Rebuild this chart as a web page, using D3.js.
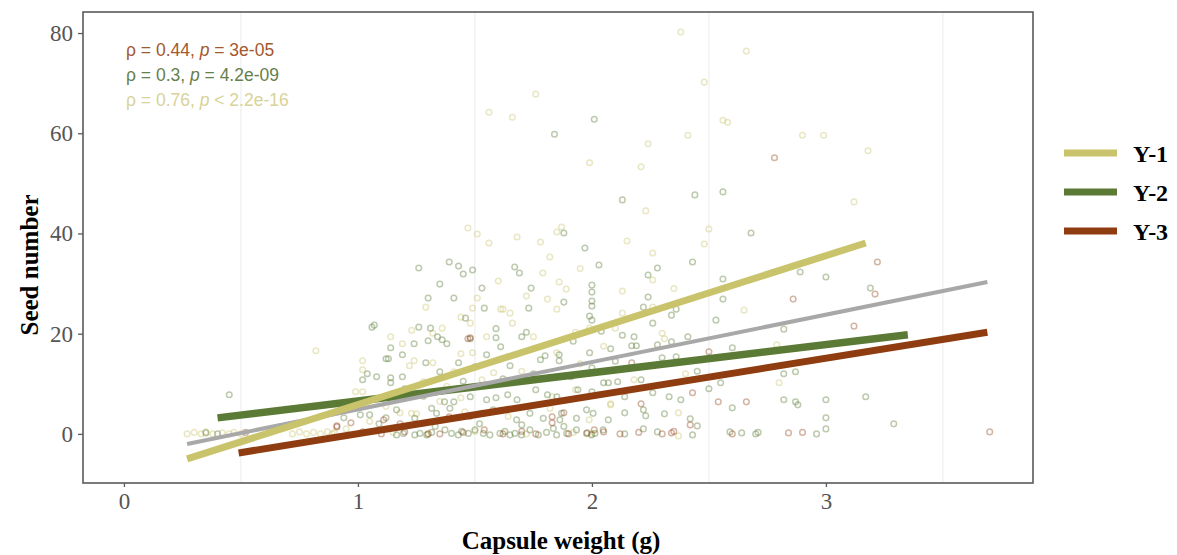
<!DOCTYPE html>
<html><head><meta charset="utf-8">
<script src="https://cdn.jsdelivr.net/npm/d3@7"></script>
<style>html,body{margin:0;padding:0;background:#fff;}</style>
</head><body>
<svg id="chart" width="1177" height="555"></svg>
<script>
// ---------- data ----------
const seriesNames = ["Y-1", "Y-2", "Y-3"];
const seriesColors = ["#c9c46b", "#5b7a35", "#8f3d10"];
const annoColors = ["#d8d398", "#66804c", "#a3582f"];
const xTicks = [0, 1, 2, 3];
const yTicks = [0, 20, 40, 60, 80];
const corLabels = [
  {rho: "0.44", op: "=", p: "3e-05"},
  {rho: "0.3", op: "=", p: "4.2e-09"},
  {rho: "0.76", op: "<", p: "2.2e-16"}
];
const corColorIdx = [2, 1, 0];

const y1Points = [
[0.27,0],[0.30,0.3],[0.33,0],[0.35,0.4],[0.38,0],[0.42,0.2],[0.45,0],[0.47,0.3],[0.50,0],[0.72,0],[0.75,0.4],[0.78,0],[0.81,0.3],[0.84,0],[0.87,0.4],[0.89,0],[0.90,0.2],
[0.82,16.6],[0.99,8.4],[1.02,8.4],[1.02,12.8],[1.02,14.6],[1.14,19.4],[1.14,6.8],[1.18,4.2],[1.19,18.0],[1.23,20.7],[1.22,13.6],[1.24,14.6],[1.28,10.4],[1.29,25.3],[1.32,20.1],[1.32,14.2],[1.36,21.1],[1.41,12.4],[1.44,23.3],[1.44,16.0],[1.44,7.2],[1.47,41.1],[1.48,22.1],[1.49,25.1],[1.49,16.2],[1.51,39.9],[1.51,27.1],[1.55,19.4],[1.56,38.1],[1.56,64.2],[1.58,12.2],[1.61,24.9],[1.62,24.9],[1.64,15.4],[1.65,24.1],[1.66,22.1],[1.66,63.2],[1.68,39.3],[1.75,19.4],[1.76,67.8],[1.78,38.3],[1.79,32.1],[1.81,26.9],[1.82,35.3],[1.83,7.4],[1.85,40.3],[1.85,24.9],[1.85,16.2],[1.86,30.3],[1.87,41.3],[1.89,28.9],[1.93,20.3],[1.93,8.8],[1.99,21.1],[1.99,54.1],[2.08,5.8],[2.08,6.0],[2.10,21.1],[2.13,28.5],[2.13,24.1],[2.18,10.8],[2.21,53.3],[2.23,44.5],[2.24,57.9],[2.26,36.1],[2.26,30.7],[2.26,25.3],[2.30,20.1],[2.31,19.0],[2.37,4.2],[2.37,-0.4],[2.38,80.2],[2.40,12.0],[2.41,59.6],[2.48,70.2],[2.48,37.9],[2.50,40.9],[2.56,62.6],[2.58,62.2],[2.65,24.7],[2.66,76.4],[2.79,17.8],[2.80,10.2],[2.90,59.6],[2.99,59.6],[3.12,46.3],[3.18,56.5],
[1.15,0.3],[1.30,0],[1.50,0.5],[1.72,0],[1.92,0.3],[2.00,0],[1.05,2.5],[1.12,5.5],[1.25,4.0],[1.35,6.5],[0.95,1.0],[1.229,4.1],[1.457,4.4],[1.642,3.5],[1.821,5.1],[1.988,2.8],
[1.38,9.5],[1.53,10.8],[1.70,12.5],[1.95,14.0],[2.05,17.5],[1.60,30.5],[1.72,27.5],[1.95,33.0],[2.15,38.5],[2.35,29.0]
];

const y2Points = [
[0.40,0],[0.45,7.8],[0.35,0.2],[1.01,3.8],[1.04,12.0],[1.05,3.8],[1.06,21.3],[1.07,21.7],[1.08,11.4],[1.09,2.0],[1.12,3.2],[1.12,15.0],[1.13,15.0],[1.14,17.2],[1.14,11.2],[1.14,10.2],[0.94,3.2],[1.02,10.8],[1.19,15.8],[1.19,11.4],[1.22,8.2],[1.24,18.0],[1.26,33.1],[1.26,21.3],[1.29,14.2],[1.30,27.1],[1.30,18.6],[1.31,21.1],[1.34,19.4],[1.35,29.9],[1.35,12.4],[1.36,18.8],[1.37,6.4],[1.38,18.0],[1.39,34.3],[1.41,27.1],[1.41,6.4],[1.43,33.5],[1.43,14.2],[1.45,31.9],[1.46,23.1],[1.48,19.0],[1.48,7.4],[1.49,32.7],[1.50,13.4],[1.53,29.1],[1.54,25.1],[1.55,15.8],[1.55,6.8],[1.59,21.0],[1.59,19.2],[1.59,7.2],[1.61,17.4],[1.64,7.8],[1.65,13.6],[1.67,33.3],[1.68,6.8],[1.69,32.1],[1.70,19.4],[1.72,20.3],[1.73,25.1],[1.74,29.1],[1.76,8.8],[1.78,14.8],[1.80,15.6],[1.81,7.8],[1.84,59.8],[1.85,7.4],[1.86,15.8],[1.86,14.6],[1.88,40.1],[1.88,26.3],[1.91,11.4],[1.94,8.8],[1.97,37.1],[1.99,23.5],[1.99,16.2],[2.00,29.7],[2.00,28.3],[2.00,26.5],[2.00,25.5],[2.00,22.7],[2.00,13.2],[2.00,8.4],[2.01,62.8],[2.03,33.7],[2.05,10.2],[2.07,10.2],[2.08,17.0],[2.11,10.4],[2.13,46.7],[2.13,19.7],[2.14,7.4],[2.14,4.2],[2.14,0],[2.17,17.6],[2.18,19.4],[2.19,17.6],[2.21,10.8],[2.22,25.3],[2.22,4.8],[2.22,1.0],[2.23,3.6],[2.24,27.3],[2.24,31.7],[2.26,22.1],[2.26,8.2],[2.28,33.1],[2.28,17.8],[2.28,0.4],[2.30,15.2],[2.31,4.0],[2.33,7.4],[2.34,23.7],[2.34,18.4],[2.36,24.9],[2.36,15.4],[2.38,6.8],[2.41,19.4],[2.42,3.0],[2.43,34.3],[2.43,-0.2],[2.44,47.7],[2.45,1.6],[2.53,22.7],[2.55,10.2],[2.56,48.3],[2.56,30.9],[2.56,26.9],[2.59,0.4],[2.60,17.2],[2.60,5.2],[2.64,0.2],[2.68,40.1],[2.70,0],[2.71,0.3],[2.82,20.9],[2.82,12.0],[2.82,6.8],[2.87,12.4],[2.87,6.4],[2.88,5.8],[2.89,32.3],[2.96,0],[3.00,31.3],[3.00,6.8],[3.00,3.2],[3.00,1.0],[3.17,7.4],[3.19,29.1],[3.29,2.0],
[1.165,-0.2],[1.194,0.1],[1.243,-0.2],[1.265,0.1],[1.294,-0.2],[1.315,0.3],[1.372,0.8],[1.400,0.1],[1.429,-0.2],[1.443,0.5],[1.472,0.1],[1.500,0.8],[1.536,0.1],[1.564,-0.2],[1.607,0.1],[1.628,0.5],[1.650,-0.2],[1.671,0.1],[1.699,-0.2],[1.735,0.8],[1.771,-0.2],[1.806,0.3],[1.835,1.1],[1.849,-0.2],[1.892,0.1],[1.934,0.8],[1.977,0.1],[1.998,-0.2],[2.013,0.1],[2.048,0.8],
[1.165,4.8],[1.243,3.1],[1.315,5.1],[1.336,4.1],[1.393,5.1],[1.479,3.5],[1.528,4.1],[1.578,4.8],[1.678,2.8],[1.735,4.1],[1.792,3.1],[1.863,2.8],[1.870,4.1],[1.934,3.1],[1.977,4.8],[2.005,4.1],[2.070,2.8],
[1.20,9.0],[1.28,7.5],[1.45,10.5],[1.62,11.0],[1.75,12.0],[1.92,18.5],[2.04,20.5],[2.10,14.5],[2.45,12.5],[2.50,9.0],[1.33,1.5],[1.52,2.0],[1.70,1.8],[1.88,1.5]
];

const y3Points = [
[0.52,0.3],[0.91,1.4],[0.91,1.6],[0.97,2.2],[1.02,0.4],[1.10,0],[1.11,2.8],[1.18,2.0],[1.20,0.4],[1.30,0],[1.35,0],[1.39,3.4],[1.45,0.3],[1.47,19.0],[1.48,19.2],[1.54,0.8],[1.62,0],[1.70,0.5],[1.76,0],[1.83,3.4],[1.83,2.2],[1.88,4.2],[1.90,0],[1.98,0.2],[2.01,0.8],[2.05,0.4],[2.12,0],[2.17,14.2],[2.20,0.3],[2.21,6.0],[2.30,0],[2.34,0.2],[2.35,0.5],[2.42,1.8],[2.43,8.2],[2.50,16.4],[2.54,6.4],[2.60,0],[2.66,6.4],[2.78,55.1],[2.84,0.2],[2.86,26.9],[2.90,0.3],[3.12,21.5],[3.21,27.9],[3.22,34.3],[3.70,0.4]
];

// fitted lines (endpoints)
const y1Fit = [[0.27,-5.0],[3.17,38.1]];
const y2Fit = [[0.40,3.2],[3.35,19.8]];
const y3Fit = [[0.49,-3.8],[3.69,20.3]];
const allFit = [[0.27,-2.0],[3.69,30.3]];
const gridMinorX = [0.5, 1.5, 2.5, 3.5];

// ---------- layout ----------
const svg = d3.select("#chart");
const L = 83, R = 1033, T = 12, B = 483;
const x = d3.scaleLinear().domain([-0.175, 3.885]).range([L, R]);
const y = d3.scaleLinear().domain([-9.8, 84.2]).range([B, T]);
const serif = "'Liberation Serif','Times New Roman',serif";
const sans = "'Liberation Sans',Arial,sans-serif";

// grid
svg.append("g").selectAll("line").data(gridMinorX).join("line")
  .attr("x1", d => x(d)).attr("x2", d => x(d)).attr("y1", T).attr("y2", B)
  .attr("stroke", "#ebebeb").attr("stroke-width", 1);

// points
const pointSets = [y1Points, y2Points, y3Points];
const pointOpacity = [0.4, 0.4, 0.38];
pointSets.forEach((pts, i) => {
  svg.append("g").selectAll("circle").data(pts).join("circle")
    .attr("cx", d => x(d[0])).attr("cy", d => y(d[1])).attr("r", 2.8)
    .attr("fill", "none").attr("stroke", seriesColors[i])
    .attr("stroke-width", 1.5).attr("stroke-opacity", pointOpacity[i]);
});

// fit lines
const lineGen = d3.line().x(d => x(d[0])).y(d => y(d[1]));
const fits = [
  {d: y3Fit, c: seriesColors[2], w: 7},
  {d: y2Fit, c: seriesColors[1], w: 7.5},
  {d: allFit, c: "#a8a8a8", w: 4},
  {d: y1Fit, c: seriesColors[0], w: 7}
];
fits.forEach(f => {
  svg.append("path").datum(f.d).attr("d", lineGen)
    .attr("fill", "none").attr("stroke", f.c).attr("stroke-width", f.w)
    .attr("stroke-linecap", "butt");
});

// panel border
svg.append("rect").attr("x", L).attr("y", T).attr("width", R - L).attr("height", B - T)
  .attr("fill", "none").attr("stroke", "#5a5a5a").attr("stroke-width", 1.6);

// axes
const xAxis = svg.append("g").attr("transform", `translate(0,${B})`)
  .call(d3.axisBottom(x).tickValues(xTicks).tickSize(4).tickPadding(6).tickFormat(d3.format("d")));
const yAxis = svg.append("g").attr("transform", `translate(${L},0)`)
  .call(d3.axisLeft(y).tickValues(yTicks).tickSize(5).tickPadding(5).tickFormat(d3.format("d")));
[xAxis, yAxis].forEach(a => {
  a.select(".domain").remove();
  a.selectAll(".tick line").attr("stroke", "#5a5a5a").attr("stroke-width", 1.3);
  a.selectAll(".tick text").attr("fill", "#555").style("font-family", serif).style("font-size", "23px");
});

// axis titles
svg.append("text").attr("x", (L + R) / 2 + 3).attr("y", 549).attr("text-anchor", "middle")
  .style("font-family", serif).style("font-weight", "bold").style("font-size", "25px")
  .attr("fill", "#000").text("Capsule weight (g)");
svg.append("text").attr("transform", "translate(38,265) rotate(-90)").attr("text-anchor", "middle")
  .style("font-family", serif).style("font-weight", "bold").style("font-size", "25px")
  .attr("fill", "#000").text("Seed number");

// correlation annotations
corLabels.forEach((c, i) => {
  const t = svg.append("text").attr("x", 126).attr("y", 56 + i * 25)
    .style("font-family", sans).style("font-size", "17.5px").attr("fill", annoColors[corColorIdx[i]]);
  t.append("tspan").text(`ρ = ${c.rho}, `);
  t.append("tspan").style("font-style", "italic").text("p");
  t.append("tspan").text(` ${c.op} ${c.p}`);
});

// legend
const legY = [153, 192, 231];
seriesNames.forEach((n, i) => {
  svg.append("line").attr("x1", 1064).attr("x2", 1117).attr("y1", legY[i]).attr("y2", legY[i])
    .attr("stroke", seriesColors[i]).attr("stroke-width", 7);
  svg.append("text").attr("x", 1133).attr("y", legY[i] + 8.5)
    .style("font-family", serif).style("font-weight", "bold").style("font-size", "24px")
    .attr("fill", "#000").text(n);
});
</script>
</body></html>
